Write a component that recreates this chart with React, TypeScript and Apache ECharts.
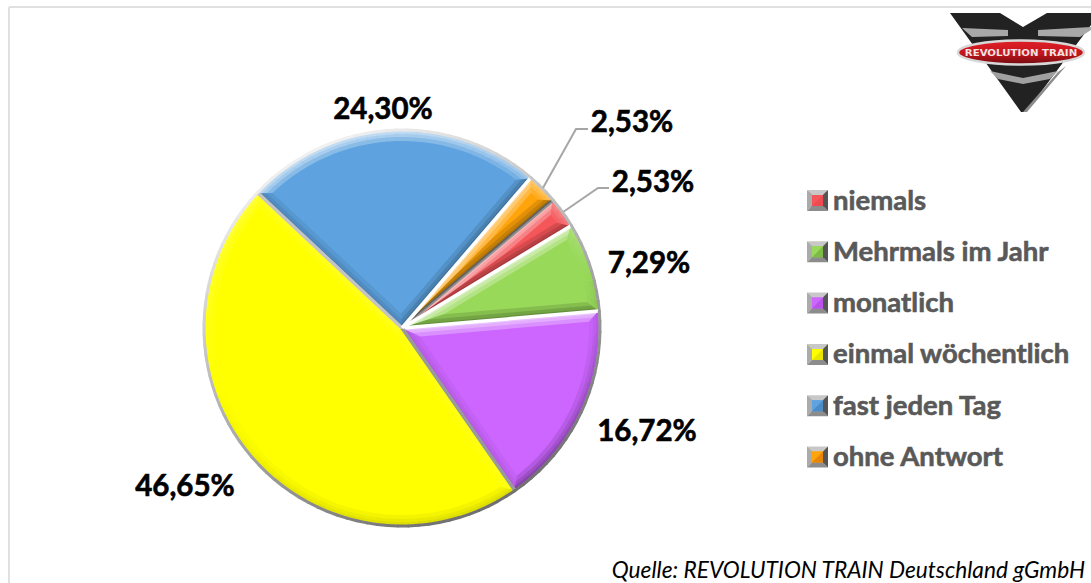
import React, { useEffect, useRef } from "react";
import * as echarts from "echarts";

const categories = ["niemals", "Mehrmals im Jahr", "monatlich", "einmal wöchentlich", "fast jeden Tag", "ohne Antwort"];
const values = [2.53, 7.29, 16.72, 46.65, 24.3, 2.53];
const valueLabels = ["2,53%", "7,29%", "16,72%", "46,65%", "24,30%", "2,53%"];
const sliceColors = ["#f4565a", "#98d95a", "#cc66ff", "#ffff00", "#5ea3df", "#ffa40a"];
const legendColors = ["#ee4b50", "#7dbb45", "#b852e8", "#e6e600", "#4a8bc8", "#e8860a"];
const separatorColors = ["#8f8f8f", "#ffffff", "#ffffff", "#9a9a9a", "#c4c4c4", "#ffffff"];
const bevelStrength = [1, 1, 1, 0.35, 1, 1];
const labelCenters: [number, number][] = [[653, 180], [649, 261], [647, 429], [185, 484], [383, 107], [632, 120]];
const leaderPoints: Record<number, number[][]> = {
  0: [[598, 188], [609, 188]],
  5: [[576, 129], [588, 129]],
};

const CX = 402;
const CY = 328;
const R = 197;
const START_DEG = 49.7;
const total = values.reduce((a, b) => a + b, 0);

function pt(deg: number, r: number, ox = CX, oy = CY): number[] {
  const a = (deg * Math.PI) / 180;
  return [ox + r * Math.sin(a), oy - r * Math.cos(a)];
}
function shade(nx: number, ny: number, k: number): string {
  const lx = -0.29;
  const ly = -0.957;
  const s = nx * lx + ny * ly;
  return s >= 0 ? `rgba(255,255,255,${(s * 0.28 * k).toFixed(3)})` : `rgba(0,0,0,${(-s * 0.13 * k).toFixed(3)})`;
}
function normalAt(deg: number): number[] {
  const a = (deg * Math.PI) / 180;
  return [Math.sin(a), -Math.cos(a)];
}

function renderSlice(params: any) {
  const i = params.dataIndex;
  let before = 0;
  for (let j = 0; j < i; j++) before += values[j];
  const a0 = START_DEG + (before / total) * 360;
  const a1 = a0 + (values[i] / total) * 360;
  const half = (a1 - a0) / 2;
  const mid = (a0 + a1) / 2;
  const children: any[] = [];
  const k = bevelStrength[i];
  for (const d of [3, 6, 10]) {
    const apexR = d / Math.sin((half * Math.PI) / 180);
    const apex = pt(mid, apexR);
    const off = (Math.asin(d / (R - d)) * 180) / Math.PI;
    const ia0 = a0 + off;
    const ia1 = a1 - off;
    const steps = Math.max(3, Math.round((a1 - a0) / 3));
    const poly = (points: number[][], fill: string) =>
      children.push({ type: "polygon", shape: { points }, style: { fill }, silent: true });
    const n0 = normalAt(a0 - 90);
    const n1 = normalAt(a1 + 90);
    poly([pt(a0, 0), pt(a0, R), pt(ia0, R - d), apex], shade(n0[0], n0[1], k));
    poly([pt(a1, 0), pt(a1, R), pt(ia1, R - d), apex], shade(n1[0], n1[1], k));
    for (let s = 0; s < steps; s++) {
      const t0 = s / steps;
      const t1 = (s + 1) / steps;
      const o0 = a0 + (a1 - a0) * t0;
      const o1 = a0 + (a1 - a0) * t1;
      const n = normalAt((o0 + o1) / 2);
      poly(
        [pt(o0, R), pt(o1, R), pt(ia0 + (ia1 - ia0) * t1, R - d), pt(ia0 + (ia1 - ia0) * t0, R - d)],
        shade(n[0], n[1], k)
      );
    }
  }
  // slice separators
  children.push({
    type: "line",
    shape: { x1: CX, y1: CY, x2: pt(a0, R)[0], y2: pt(a0, R)[1] },
    style: { stroke: separatorColors[i], lineWidth: 3.5 },
    silent: true,
  });
  // outer rim
  const rimSteps = Math.max(3, Math.round((a1 - a0) / 3));
  for (let s = 0; s < rimSteps; s++) {
    const o0 = a0 + ((a1 - a0) * s) / rimSteps;
    const o1 = a0 + ((a1 - a0) * (s + 1)) / rimSteps;
    const n = normalAt((o0 + o1) / 2);
    const t = (n[0] * -0.45 + n[1] * -0.89 + 1) / 2;
    const g = Math.round(0x70 + (0xf0 - 0x70) * t);
    children.push({
      type: "line",
      shape: { x1: pt(o0, R + 1)[0], y1: pt(o0, R + 1)[1], x2: pt(o1, R + 1)[0], y2: pt(o1, R + 1)[1] },
      style: { stroke: `rgb(${g},${g},${g})`, lineWidth: 3, lineCap: "round" },
      silent: true,
    });
  }
  // leader lines for the two small slices
  if (leaderPoints[i]) {
    children.push({
      type: "polyline",
      shape: { points: [pt(mid, R + 2), ...leaderPoints[i]] },
      style: { stroke: "#a6a6a6", lineWidth: 2, fill: "none" },
      silent: true,
    });
  }
  return { type: "group", children };
}

const LEGEND_LEFT = 807;
const LEGEND_TOP = 190;
const LEGEND_STEP = 51.3;
const LEGEND_ROW = 28.7;
const MARK = 21;

function legendBevels(): any[] {
  const out: any[] = [];
  categories.forEach((_, i) => {
    const x = LEGEND_LEFT;
    const y = LEGEND_TOP + i * LEGEND_STEP;
    out.push(
      { type: "polygon", z: 20, shape: { points: [[x, y], [x + MARK, y], [x + MARK - 5, y + 5], [x + 5, y + 5]] }, style: { fill: "#c8c8c8" } },
      { type: "polygon", z: 20, shape: { points: [[x, y], [x + 5, y + 5], [x + 5, y + MARK - 5], [x, y + MARK]] }, style: { fill: "#ababab" } },
      { type: "polygon", z: 20, shape: { points: [[x, y + MARK], [x + 5, y + MARK - 5], [x + MARK - 5, y + MARK - 5], [x + MARK, y + MARK]] }, style: { fill: "#8c8c8c" } },
      { type: "polygon", z: 20, shape: { points: [[x + MARK, y], [x + MARK, y + MARK], [x + MARK - 5, y + MARK - 5], [x + MARK - 5, y + 5]] }, style: { fill: "#555555" } },
      { type: "polygon", z: 20, shape: { points: [[x + 5, y + 5], [x + MARK - 5, y + 5], [x + 5, y + MARK - 5]] }, style: { fill: sliceColors[i] } },
      { type: "polygon", z: 20, shape: { points: [[x + MARK - 5, y + 5], [x + MARK - 5, y + MARK - 5], [x + 5, y + MARK - 5]] }, style: { fill: legendColors[i] } }
    );
  });
  return out;
}

function logo(): any[] {
  return [
    { type: "polygon", z: 30, shape: { points: [[950, 13], [1000, 13], [1023, 27], [1047, 13], [1100, 13], [1026, 112], [1021, 112]] }, style: { fill: "#222222" } },
    { type: "polygon", z: 31, shape: { points: [[962, 28], [1008, 30], [1008, 36], [972, 37]] }, style: { fill: "#a8a8a8" } },
    { type: "polygon", z: 31, shape: { points: [[1038, 30], [1091, 27], [1091, 30], [1080, 37], [1038, 36]] }, style: { fill: "#a8a8a8" } },
    { type: "polygon", z: 31, shape: { points: [[990, 71], [1023, 78], [1058, 71], [1050, 79], [1023, 84], [998, 79]] }, style: { fill: "#a0a0a0" } },
    { type: "polygon", z: 31, shape: { points: [[1023, 112], [1058, 72], [1066, 66], [1027, 112]] }, style: { fill: "#8c8c8c" } },
    {
      type: "ellipse", z: 32, shape: { cx: 1021, cy: 52.5, rx: 63, ry: 12 },
      style: {
        fill: new echarts.graphic.LinearGradient(0, 0, 0, 1, [
          { offset: 0, color: "#e02028" },
          { offset: 0.55, color: "#c4141c" },
          { offset: 1, color: "#6e0c10" },
        ]),
        stroke: "#d8d8d8",
        lineWidth: 2.5,
      },
    },
    {
      type: "text", z: 33, x: 1021, y: 53, scaleX: 1.28,
      style: {
        text: "REVOLUTION TRAIN", fill: "#f0e4e4", font: "bold 8px 'DejaVu Sans'",
        align: "center", verticalAlign: "middle",
      },
    },
  ];
}

export default function App() {
  const ref = useRef<HTMLDivElement>(null);
  useEffect(() => {
    document.body.style.margin = "0";
    const chart = echarts.init(ref.current!, null, { renderer: "svg" });
    chart.setOption({
      animation: false,
      backgroundColor: "#ffffff",
      color: sliceColors,
      legend: {
        orient: "vertical",
        left: LEGEND_LEFT - 5,
        top: LEGEND_TOP - 10,
        icon: "rect",
        itemWidth: MARK,
        itemHeight: MARK - 5,
        itemGap: LEGEND_STEP - LEGEND_ROW,
        selectedMode: false,
        data: categories,
        textStyle: {
          fontFamily: "Lato", fontWeight: "bold", fontSize: 27.5, color: "#595959",
          textBorderColor: "#595959", textBorderWidth: 0.6,
        },
      },
      series: [
        {
          type: "pie",
          center: [CX, CY],
          radius: [0, R],
          startAngle: 90 - START_DEG,
          clockwise: true,
          silent: true,
          data: categories.map((name, i) => ({ name, value: values[i] })),
          label: {
            show: true,
            formatter: (p: any) => valueLabels[p.dataIndex],
            fontFamily: "Lato",
            fontWeight: "bold",
            fontSize: 29.5,
            color: "#000000",
            textBorderColor: "#000000",
            textBorderWidth: 0.6,
          },
          labelLine: { show: false },
          labelLayout: (p: any) => ({
            x: labelCenters[p.dataIndex][0],
            y: labelCenters[p.dataIndex][1],
            align: "center",
            verticalAlign: "middle",
          }),
        },
        {
          type: "custom",
          coordinateSystem: "none",
          silent: true,
          z: 3,
          data: values,
          renderItem: renderSlice,
        },
      ],
      graphic: [
        { type: "line", shape: { x1: 9, y1: 7, x2: 1091, y2: 7 }, style: { stroke: "#e0e0e0", lineWidth: 2 } },
        { type: "line", shape: { x1: 9, y1: 7, x2: 9, y2: 583 }, style: { stroke: "#e0e0e0", lineWidth: 2 } },
        ...legendBevels(),
        ...logo(),
        {
          type: "text", x: 1085, y: 581, z: 10,
          style: {
            text: "Quelle: REVOLUTION TRAIN Deutschland gGmbH",
            fill: "#000000", font: "italic 22.7px Lato", align: "right", verticalAlign: "bottom",
          },
        },
      ],
    });
    return () => chart.dispose();
  }, []);
  return <div ref={ref} style={{ position: "fixed", left: 0, top: 0, width: 1091, height: 583 }} />;
}
